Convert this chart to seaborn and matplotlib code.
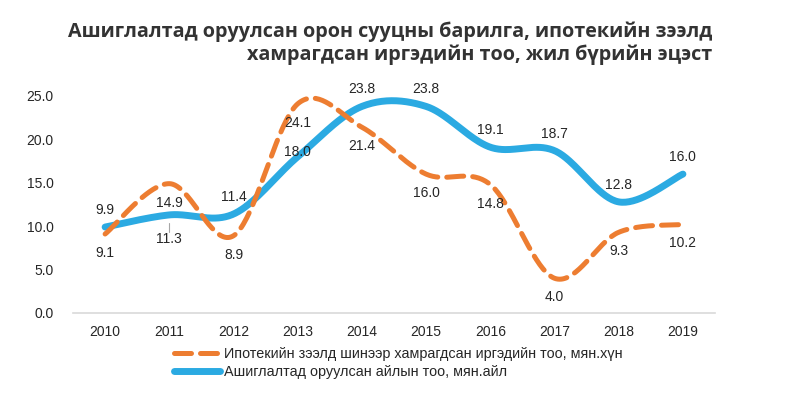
import numpy as np
import pandas as pd
import matplotlib
matplotlib.use("Agg")
import matplotlib.pyplot as plt
import seaborn as sns

years = [2010, 2011, 2012, 2013, 2014, 2015, 2016, 2017, 2018, 2019]
mortgage = [9.1, 14.9, 8.9, 24.1, 21.4, 16.0, 14.8, 4.0, 9.3, 10.2]
housing = [9.9, 11.3, 11.4, 18.0, 23.8, 23.8, 19.1, 18.7, 12.8, 16.0]
mortgage_name = "Ипотекийн зээлд шинээр хамрагдсан иргэдийн тоо, мян.хүн"
housing_name = "Ашиглалтад оруулсан айлын тоо, мян.айл"
title = "Ашиглалтад оруулсан орон сууцны барилга, ипотекийн зээлд\nхамрагдсан иргэдийн тоо, жил бүрийн эцэст"

ORANGE = "#ED7D31"
BLUE = "#2BAAE2"


# smoothed curve like Excel's "smoothed line" (bezier through the points)
def smooth(y, n=40):
    y = np.asarray(y, dtype=float)
    x = np.arange(len(y), dtype=float)
    xs, ys = [], []
    for i in range(len(y) - 1):
        i0, i3 = max(i - 1, 0), min(i + 2, len(y) - 1)
        p0 = np.array([x[i], y[i]])
        p3 = np.array([x[i + 1], y[i + 1]])
        p1 = p0 + (np.array([x[i + 1], y[i + 1]]) - np.array([x[i0], y[i0]])) / 6
        p2 = p3 - (np.array([x[i3], y[i3]]) - np.array([x[i], y[i]])) / 6
        t = np.linspace(0, 1, n)[:, None]
        pts = (1 - t) ** 3 * p0 + 3 * (1 - t) ** 2 * t * p1 + 3 * (1 - t) * t ** 2 * p2 + t ** 3 * p3
        xs.extend(pts[:, 0])
        ys.extend(pts[:, 1])
    return np.array(xs), np.array(ys)


sns.set_style("white")
plt.rcParams["font.family"] = ["Liberation Sans", "DejaVu Sans"]

fig = plt.figure(figsize=(7.86, 3.98), dpi=100)
ax = fig.add_axes([0.0929, 0.2136, 0.8168, 0.5452])

bx, by = smooth(housing)
ox, oy = smooth(mortgage)
dense = pd.DataFrame({"x": bx, "y": by})
dense2 = pd.DataFrame({"x": ox, "y": oy})

sns.lineplot(data=dense, x="x", y="y", ax=ax, color=BLUE, lw=5, sort=False,
             label=housing_name, solid_capstyle="round", clip_on=False)
sns.lineplot(data=dense2, x="x", y="y", ax=ax, color=ORANGE, lw=3.6, sort=False,
             label=mortgage_name, clip_on=False)
ax.lines[-1].set_dashes([3.4, 1.8])
ax.lines[-1].set_dash_capstyle("round")

# data labels
lab_kw = dict(textcoords="offset pixels", ha="center", va="center", fontsize=10, color="#262626")
for i, v in enumerate(mortgage):
    ax.annotate(f"{v:.1f}", (i, v), xytext=(0, -19), **lab_kw)
for i, v in enumerate(housing):
    off = (0, 17)
    if i == 1:
        off = (0, -24)
    if i == 3:
        off = (0, 5)
    ax.annotate(f"{v:.1f}", (i, v), xytext=off, **lab_kw)
ax.plot([1, 1], [housing[1] - 0.9, housing[1] - 2.0], color="#A6A6A6", lw=0.8)

ax.set_xlim(-0.5, len(years) - 0.5)
ax.set_ylim(0, 25)
ax.set_xticks(range(len(years)))
ax.set_xticklabels([str(y) for y in years])
ax.set_yticks(np.arange(0, 25.1, 5))
ax.set_yticklabels([f"{t:.1f}" for t in np.arange(0, 25.1, 5)])
ax.tick_params(axis="both", length=0, labelsize=10, colors="#262626")
ax.tick_params(axis="x", pad=9)
ax.tick_params(axis="y", pad=14)
ax.set_xlabel("")
ax.set_ylabel("")
for s in ["top", "right", "left"]:
    ax.spines[s].set_visible(False)
ax.spines["bottom"].set_color("#D9D9D9")
ax.spines["bottom"].set_linewidth(1.2)

h, l = ax.get_legend_handles_labels()
ax.legend(h[::-1], l[::-1], loc="upper left", bbox_to_anchor=(0.148, -0.13), frameon=False,
          fontsize=10.4, handlelength=3.2, handletextpad=0.3, labelspacing=0.3,
          borderaxespad=0, labelcolor="#262626")

fig.text(0.906, 0.945, title, ha="right", va="top", fontsize=14.2, fontweight="bold",
         color="#333333", family=["Open Sans", "DejaVu Sans"], linespacing=1.15)

fig.savefig("out.png", dpi=100)
